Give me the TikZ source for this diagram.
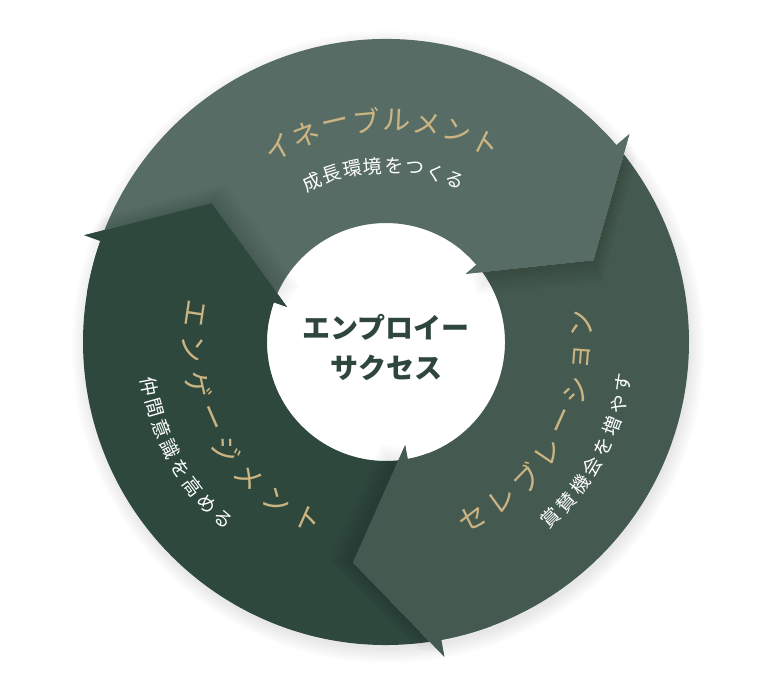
\documentclass[tikz,border=0pt]{standalone}
\usepackage{fontspec}
\newfontfamily\jpfont{Noto Sans CJK JP}
\usepackage{xcolor}
\definecolor{esctop}{HTML}{576C64}
\definecolor{escright}{HTML}{445A50}
\definecolor{escleft}{HTML}{2E483D}
\definecolor{escgold}{HTML}{CBB482}
\definecolor{escink}{HTML}{2F463C}
\usepackage{tikz}
\usetikzlibrary{calc}
\tikzset{
  esctitle/.style={text=escgold,inner sep=0pt,font=\jpfont\fontsize{28}{28}\selectfont},
  escsub/.style={text=white,inner sep=0pt,font=\jpfont\fontsize{19}{19}\selectfont},
  esccore/.style={text=escink,align=center,inner sep=0pt,font=\jpfont\bfseries\fontsize{28}{40}\selectfont},
  escshadow/.style={fill=black,opacity=0.016},
  eschalo/.style={fill=black,opacity=0.012},
}

\begin{document}
\begin{tikzpicture}
\fill[white] (-386pt,-346pt) rectangle (392pt,342pt);
\useasboundingbox (-386pt,-346pt) rectangle (392pt,342pt);
\foreach \k in {1,...,8}{
  \pgfmathsetmacro\hr{300+\k*2}
  \fill[eschalo] (2pt,-5pt) circle[radius=\hr pt];
}
\fill[white] (0,0) circle[radius=119pt];
\foreach \from/\to/\col in {160.5/40.5/esctop,40.5/-79.5/escright,280.5/160.5/escleft}{
  \pgfmathsetmacro\oa{\from-2.2}
  \pgfmathsetmacro\ia{\from-4.5}
  \pgfmathsetmacro\nt{\from-19}
  \pgfmathsetmacro\ht{\to-19}
  \fill[\col] (\oa:303pt) arc[start angle=\oa,end angle=\to,radius=303pt] -- (\to:320pt) -- (\ht:223pt)
    -- (\to:105pt) -- (\to:119pt) arc[start angle=\to,end angle=\ia,radius=119pt] -- (\nt:223pt) -- cycle;
}
\foreach \to/\col in {40.5/esctop,-79.5/escright,160.5/escleft}{
  \pgfmathsetmacro\ht{\to-19}
  \pgfmathsetmacro\hb{\to+10}
  \pgfmathsetmacro\qb{\to+8}
  \pgfmathsetmacro\dir{\to-109}
  \foreach \k in {1,...,8}{
    \pgfmathsetmacro\sh{\k*3}
    \fill[escshadow,shift={(\dir:\sh pt)}] (\to:318pt) -- (\ht:223pt) -- (\to:107pt) -- (\qb:215pt) -- cycle;
  }
  \fill[\col] (\hb:303pt) arc[start angle=\hb,end angle=\to,radius=303pt] -- (\to:320pt) -- (\ht:223pt)
    -- (\to:105pt) -- (\to:119pt) arc[start angle=\to,end angle=\hb,radius=119pt] -- cycle;
}
\node[esccore] (core) at (0pt,-5pt) {エンプロイー\\サクセス};
\foreach \ch [count=\i from 0] in {イ,ネ,ー,ブ,ル,メ,ン,ト}{
  \pgfmathsetmacro\ang{119-\i*7.94}
  \pgfmathsetmacro\rot{\ang-90}
  \node[esctitle,rotate=\rot] (enable\i) at (\ang:222pt) {\ch};
}
\foreach \ch [count=\i from 0] in {成,長,環,境,を,つ,く,る}{
  \pgfmathsetmacro\ang{114.8-\i*6.84}
  \pgfmathsetmacro\rot{\ang-90}
  \node[escsub,rotate=\rot] (grow\i) at (\ang:176pt) {\ch};
}
\foreach \ch [count=\i from 0] in {セ,レ,ブ,レ,ー,シ,ョ,ン}{
  \pgfmathsetmacro\ang{-63.8+\i*9.9}
  \pgfmathsetmacro\rot{\ang+90}
  \node[esctitle,rotate=\rot] (celeb\i) at (\ang:196pt) {\ch};
}
\foreach \ch [count=\i from 0] in {賞,賛,機,会,を,増,や,す}{
  \pgfmathsetmacro\ang{-47+\i*5.33}
  \pgfmathsetmacro\rot{\ang+90}
  \node[escsub,rotate=\rot] (praise\i) at (\ang:241pt) {\ch};
}
\foreach \ch [count=\i from 0] in {エ,ン,ゲ,ー,ジ,メ,ン,ト}{
  \pgfmathsetmacro\ang{171.5+\i*10.64}
  \pgfmathsetmacro\rot{\ang+90}
  \node[esctitle,rotate=\rot] (engage\i) at (\ang:193pt) {\ch};
}
\foreach \ch [count=\i from 0] in {仲,間,意,識,を,高,め,る}{
  \pgfmathsetmacro\ang{190.7+\i*5.24}
  \pgfmathsetmacro\rot{\ang+90}
  \node[escsub,rotate=\rot] (team\i) at (\ang:241pt) {\ch};
}
\end{tikzpicture}
\end{document}
